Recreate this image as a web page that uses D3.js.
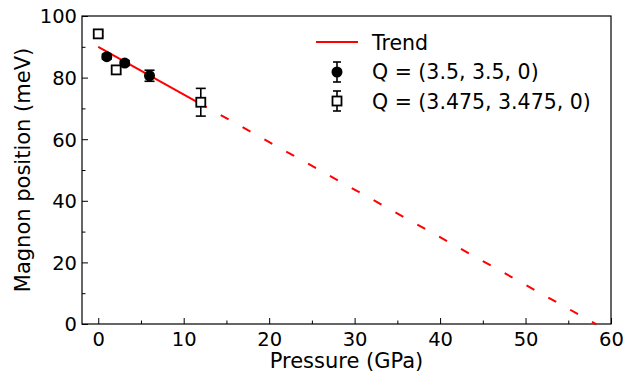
<!DOCTYPE html>
<html>
<head>
<meta charset="utf-8">
<script src="https://cdn.jsdelivr.net/npm/d3@7"></script>
<style>
body { margin: 0; background: #fff; }
text { font-family: "DejaVu Sans", sans-serif; }
</style>
</head>
<body>
<div id="chart"></div>
<script>
// data
const circX = [1.0, 3.1, 6.0];
const circY = [86.8, 84.7, 80.6];
const circErr = [0.8, 0.8, 1.8];
const sqX = [0.0, 2.1, 12.0];
const sqY = [94.2, 82.5, 72.0];
const sqErr = [0.8, 1.3, 4.5];
const trendIntercept = 90.0;
const trendSlope = -1.546;
const trendSolidEnd = 12.7;
const trendEnd = 58.3;
const xTicks = [0, 10, 20, 30, 40, 50, 60];
const yTicks = [0, 20, 40, 60, 80, 100];

const width = 636, height = 375;
const margin = { top: 16, right: 25, bottom: 51, left: 82 };
const w = width - margin.left - margin.right;
const h = height - margin.top - margin.bottom;

const svg = d3.select("#chart").append("svg")
    .attr("width", width).attr("height", height);
const g = svg.append("g").attr("transform", `translate(${margin.left},${margin.top})`);

const x = d3.scaleLinear().domain([-1.9, 60]).range([0, w]);
const y = d3.scaleLinear().domain([0, 100]).range([h, 0]);

// axes (ticks inward)
const xAxis = g.append("g").attr("transform", `translate(0,${h})`)
    .call(d3.axisBottom(x).tickValues(xTicks).tickSizeInner(-6).tickSizeOuter(0).tickPadding(8));
const xMinor = g.append("g").attr("transform", `translate(0,${h})`)
    .call(d3.axisBottom(x).tickValues(d3.range(5, 60, 10)).tickSizeInner(-3.5).tickSizeOuter(0).tickFormat(""));
const yAxis = g.append("g")
    .call(d3.axisLeft(y).tickValues(yTicks).tickSizeInner(-6).tickSizeOuter(0).tickPadding(5));
const yMinor = g.append("g")
    .call(d3.axisLeft(y).tickValues(d3.range(10, 100, 20)).tickSizeInner(-3.5).tickSizeOuter(0).tickFormat(""));
[xAxis, xMinor, yAxis, yMinor].forEach(a => {
    a.select(".domain").remove();
    a.selectAll("line").attr("stroke", "#000").attr("stroke-width", 1);
    a.selectAll("text").attr("font-size", "19.5px").attr("fill", "#000")
        .attr("font-family", "DejaVu Sans, sans-serif");
});
yAxis.selectAll("text").attr("dy", "0.35em");

g.append("rect").attr("width", w).attr("height", h)
    .attr("fill", "none").attr("stroke", "#000").attr("stroke-width", 1.2);

// trend line
const trend = v => trendIntercept + trendSlope * v;
const line = d3.line().x(d => x(d)).y(d => y(trend(d)));
g.append("path").datum([0, trendSolidEnd]).attr("d", line)
    .attr("stroke", "#ff0000").attr("stroke-width", 2).attr("fill", "none");
g.append("path").datum([trendSolidEnd, trendEnd]).attr("d", line)
    .attr("stroke", "#ff0000").attr("stroke-width", 2).attr("fill", "none")
    .attr("stroke-dasharray", "9,16").attr("stroke-dashoffset", 9);

// error bars
function errBars(xs, ys, es) {
    xs.forEach((xv, i) => {
        const cx = x(xv), y1 = y(ys[i] + es[i]), y2 = y(ys[i] - es[i]);
        const eg = g.append("g").attr("stroke", "#000").attr("stroke-width", 1.6);
        eg.append("line").attr("x1", cx).attr("x2", cx).attr("y1", y1).attr("y2", y2);
        eg.append("line").attr("x1", cx - 5).attr("x2", cx + 5).attr("y1", y1).attr("y2", y1);
        eg.append("line").attr("x1", cx - 5).attr("x2", cx + 5).attr("y1", y2).attr("y2", y2);
    });
}
errBars(circX, circY, circErr);
errBars(sqX, sqY, sqErr);

g.selectAll(".circ").data(circX).enter().append("circle")
    .attr("cx", d => x(d)).attr("cy", (d, i) => y(circY[i])).attr("r", 5.5).attr("fill", "#000");
g.selectAll(".sq").data(sqX).enter().append("rect")
    .attr("x", d => x(d) - 4.5).attr("y", (d, i) => y(sqY[i]) - 4.5)
    .attr("width", 9).attr("height", 9)
    .attr("fill", "#fff").attr("stroke", "#000").attr("stroke-width", 1.8);

// legend
const lg = svg.append("g");
lg.append("line").attr("x1", 316).attr("x2", 358).attr("y1", 42).attr("y2", 42)
    .attr("stroke", "#ff0000").attr("stroke-width", 2);
function legErr(cx, cy) {
    const eg = lg.append("g").attr("stroke", "#000").attr("stroke-width", 1.6);
    eg.append("line").attr("x1", cx).attr("x2", cx).attr("y1", cy - 10).attr("y2", cy + 10);
    eg.append("line").attr("x1", cx - 4).attr("x2", cx + 4).attr("y1", cy - 10).attr("y2", cy - 10);
    eg.append("line").attr("x1", cx - 4).attr("x2", cx + 4).attr("y1", cy + 10).attr("y2", cy + 10);
}
legErr(337, 72);
lg.append("circle").attr("cx", 337).attr("cy", 72).attr("r", 5.5).attr("fill", "#000");
legErr(337, 101);
lg.append("rect").attr("x", 332.5).attr("y", 96.5).attr("width", 9).attr("height", 9)
    .attr("fill", "#fff").attr("stroke", "#000").attr("stroke-width", 1.8);
const labels = ["Trend", "Q = (3.5, 3.5, 0)", "Q = (3.475, 3.475, 0)"];
labels.forEach((t, i) => {
    lg.append("text").attr("x", 372).attr("y", 43 + i * 29.3).attr("dy", "0.35em")
        .attr("font-size", "20.5px").attr("fill", "#000").text(t);
});

// axis labels
svg.append("text").attr("x", margin.left + w / 2).attr("y", 368)
    .attr("text-anchor", "middle").attr("font-size", "21px").text("Pressure (GPa)");
svg.append("text").attr("transform", `translate(30,${margin.top + h / 2}) rotate(-90)`)
    .attr("text-anchor", "middle").attr("font-size", "21px").text("Magnon position (meV)");
</script>
</body>
</html>
